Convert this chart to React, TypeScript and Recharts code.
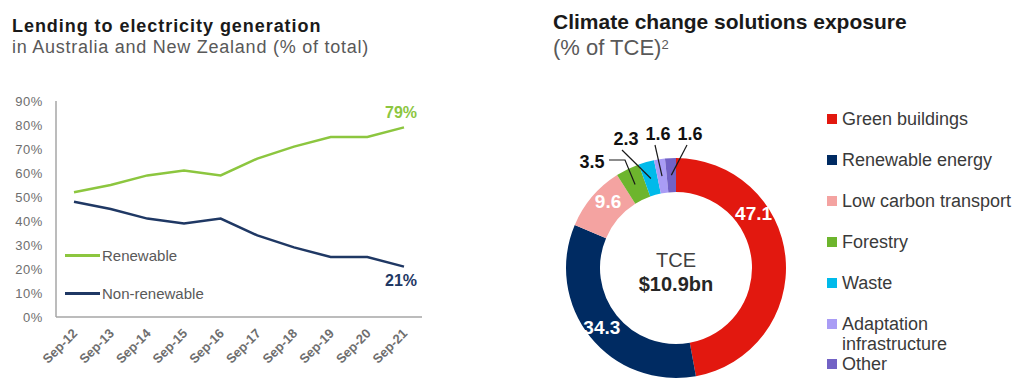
import { LineChart, Line, XAxis, YAxis, Legend, PieChart, Pie, Cell } from 'recharts';

// left chart: lending to electricity generation (% of total)
const years = ['Sep-12', 'Sep-13', 'Sep-14', 'Sep-15', 'Sep-16', 'Sep-17', 'Sep-18', 'Sep-19', 'Sep-20', 'Sep-21'];
const renewable = [52, 55, 59, 61, 59, 66, 71, 75, 75, 79];
const nonRenewable = [48, 45, 41, 39, 41, 34, 29, 25, 25, 21];
const yTicks = [0, 10, 20, 30, 40, 50, 60, 70, 80, 90];

// right chart: climate change solutions exposure (% of TCE)
const sectors = ['Green buildings', 'Renewable energy', 'Low carbon transport', 'Forestry', 'Waste', 'Adaptation infrastructure', 'Other'];
const exposure = [47.1, 34.3, 9.6, 3.5, 2.3, 1.6, 1.6];
const sectorColors = ['#E2180F', '#002B62', '#F4A3A1', '#6DB52D', '#00BAEA', '#A99CF5', '#7262C5'];

const GREEN = '#8CC63F';
const NAVY = '#1F3864';
const GREY = '#595959';
const AXIS = '#A6A6A6';
const FONT = 'Arial, "Liberation Sans", sans-serif';

const lineData = years.map((year, i) => ({ year, renewable: renewable[i], nonRenewable: nonRenewable[i] }));
const pieData = sectors.map((name, i) => ({ name, value: exposure[i] }));

const RAD = Math.PI / 180;
// label angle tweaks for the big slices, and leader layouts for the small ones (px from centre)
const insideShift: Record<string, number> = { 'Green buildings': 30, 'Low carbon transport': -4 };
const outsideLayout: Record<string, { text: [number, number]; path: [number, number][] }> = {
  Forestry: { text: [-84, -106], path: [[-51, -108], [-67, -108]] },
  Waste: { text: [-50, -129], path: [[-54, -118]] },
  'Adaptation infrastructure': { text: [-18, -134], path: [[-21, -123]] },
  Other: { text: [14, -134], path: [[11, -123]] },
};

const XTick = ({ x, y, payload }: any) => (
  <text
    x={x + 1}
    y={y + 6}
    transform={`rotate(-45, ${x + 1}, ${y + 6})`}
    textAnchor="end"
    dy="0.35em"
    fontSize={13}
    fontWeight="bold"
    fill="#6E6E6E"
    fontFamily={FONT}
  >
    {payload.value}
  </text>
);

const endLabel = (color: string, dy: number) => (props: any) => {
  const { x, y, index, value } = props;
  if (index !== years.length - 1) return null;
  return (
    <text x={x - 3} y={y + dy} textAnchor="middle" dominantBaseline="central" fontSize={16} fontWeight="bold" fill={color} fontFamily={FONT}>
      {value}%
    </text>
  );
};

const LineLegend = () => (
  <div style={{ fontFamily: FONT, fontSize: 15, color: GREY }}>
    {[
      { label: 'Renewable', color: GREEN },
      { label: 'Non-renewable', color: NAVY },
    ].map((it, i) => (
      <div key={it.label} style={{ display: 'flex', alignItems: 'center', height: 20, marginBottom: i === 0 ? 18 : 0 }}>
        <span style={{ display: 'inline-block', width: 35, height: 3, background: it.color, marginRight: 2 }} />
        {it.label}
      </div>
    ))}
  </div>
);

const PieLegend = () => (
  <div style={{ fontFamily: FONT, fontSize: 18, color: '#3A3A3A', lineHeight: '20px' }}>
    {sectors.map((s, i) => (
      <div key={s} style={{ display: 'flex', alignItems: 'flex-start', marginBottom: i === 5 ? 0 : 21 }}>
        <span style={{ display: 'inline-block', width: 10, height: 10, background: sectorColors[i], marginTop: 5, marginRight: 5, flexShrink: 0 }} />
        <span style={{ width: 172 }}>{s}</span>
      </div>
    ))}
  </div>
);

const renderPieLabel = (props: any) => {
  const { cx, cy, midAngle, index, value } = props;
  const name = sectors[index];
  const centre =
    index === 0 ? (
      <g>
        <text x={cx} y={cy - 8} textAnchor="middle" dominantBaseline="central" fontSize={20} fill="#404040" fontFamily={FONT}>
          TCE
        </text>
        <text x={cx} y={cy + 16} textAnchor="middle" dominantBaseline="central" fontSize={20} fontWeight="bold" fill="#262626" fontFamily={FONT}>
          $10.9bn
        </text>
      </g>
    ) : null;
  const lay = outsideLayout[name];
  if (!lay) {
    const a = (midAngle + (insideShift[name] || 0)) * RAD;
    const r = 95;
    return (
      <g>
        {centre}
        <text
          x={cx + r * Math.cos(a)}
          y={cy - r * Math.sin(a)}
          textAnchor="middle"
          dominantBaseline="central"
          fontSize={19}
          fontWeight="bold"
          fill="#fff"
          fontFamily={FONT}
        >
          {value}
        </text>
      </g>
    );
  }
  const a = midAngle * RAD;
  const start = [cx + 93 * Math.cos(a), cy - 93 * Math.sin(a)];
  const pts = [start, ...lay.path.map(([dx, dy]) => [cx + dx, cy + dy])];
  return (
    <g>
      <polyline points={pts.map((p) => p.join(',')).join(' ')} fill="none" stroke="#1a1a1a" strokeWidth={1.2} />
      <text
        x={cx + lay.text[0]}
        y={cy + lay.text[1]}
        textAnchor="middle"
        dominantBaseline="central"
        fontSize={18}
        fontWeight="bold"
        fill="#111"
        fontFamily={FONT}
      >
        {value}
      </text>
    </g>
  );
};

export default function App() {
  return (
    <div style={{ position: 'absolute', left: 0, top: 0, width: 1016, height: 389, background: '#fff', fontFamily: FONT }}>
      <div style={{ position: 'absolute', left: 0, top: 0 }}>
        <LineChart width={440} height={389} data={lineData} margin={{ top: 101, right: 18, left: 0, bottom: 22 }}>
          <XAxis
            dataKey="year"
            height={50}
            padding={{ left: 18, right: 18 }}
            tickLine={false}
            axisLine={{ stroke: AXIS, strokeWidth: 1.5 }}
            tick={<XTick />}
            interval={0}
          />
          <YAxis
            width={56}
            domain={[0, 90]}
            ticks={yTicks}
            interval={0}
            tickLine={false}
            tickMargin={7}
            axisLine={{ stroke: AXIS, strokeWidth: 1.5 }}
            tickFormatter={(v: number) => `${v}%`}
            tick={{ fontSize: 13, fill: '#6E6E6E', fontFamily: FONT, letterSpacing: 0.6 }}
          />
          <Legend
            layout="horizontal"
            verticalAlign="middle"
            content={<LineLegend />}
            wrapperStyle={{ left: 65, top: 245, width: 'auto' }}
          />
          <Line
            type="linear"
            dataKey="renewable"
            stroke={GREEN}
            strokeWidth={2.5}
            dot={false}
            isAnimationActive={false}
            label={endLabel(GREEN, -15)}
          />
          <Line
            type="linear"
            dataKey="nonRenewable"
            stroke={NAVY}
            strokeWidth={2.5}
            dot={false}
            isAnimationActive={false}
            label={endLabel(NAVY, 14)}
          />
        </LineChart>
      </div>

      <div style={{ position: 'absolute', left: 540, top: 80 }}>
        <PieChart width={476} height={309} margin={{ top: 0, right: 0, bottom: 0, left: 0 }}>
          <Pie
            data={pieData}
            dataKey="value"
            nameKey="name"
            cx={136}
            cy={188}
            innerRadius={76}
            outerRadius={110}
            startAngle={90}
            endAngle={-270}
            stroke="none"
            label={renderPieLabel}
            labelLine={false}
            isAnimationActive={false}
          >
            {pieData.map((d, i) => (
              <Cell key={d.name} fill={sectorColors[i]} />
            ))}
          </Pie>
          <Legend
            layout="horizontal"
            verticalAlign="middle"
            content={<PieLegend />}
            wrapperStyle={{ left: 287, top: 29, width: 'auto' }}
          />
        </PieChart>
      </div>

      <div style={{ position: 'absolute', left: 12, top: 17, fontSize: 18, lineHeight: '18px', letterSpacing: 0.95, fontWeight: 'bold', color: '#1a1a1a', whiteSpace: 'nowrap' }}>
        Lending to electricity generation
      </div>
      <div style={{ position: 'absolute', left: 12, top: 38, fontSize: 18, lineHeight: '18px', letterSpacing: 0.75, color: GREY, whiteSpace: 'nowrap' }}>
        in Australia and New Zealand (% of total)
      </div>
      <div style={{ position: 'absolute', left: 553, top: 11, fontSize: 21, lineHeight: '21px', fontWeight: 'bold', color: '#1a1a1a', whiteSpace: 'nowrap' }}>
        Climate change solutions exposure
      </div>
      <div style={{ position: 'absolute', left: 553, top: 37, fontSize: 22, lineHeight: '22px', color: GREY, whiteSpace: 'nowrap' }}>
        (% of TCE)<sup style={{ fontSize: 13, verticalAlign: 'top', position: 'relative', top: -3 }}>2</sup>
      </div>
    </div>
  );
}
